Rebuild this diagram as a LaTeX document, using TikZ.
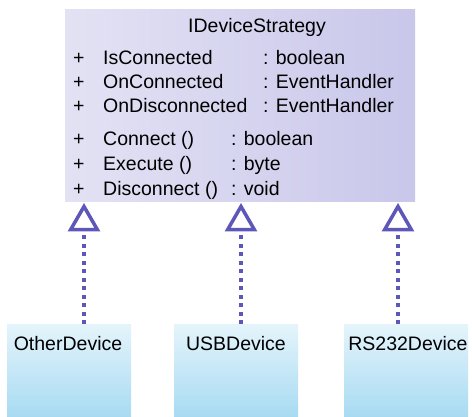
\documentclass[tikz,border=0pt]{standalone}
\usepackage{fontspec}
\setmainfont{Liberation Sans}
\usetikzlibrary{shapes.geometric}
\definecolor{lavtop}{HTML}{E3E2F4}
\definecolor{lavbot}{HTML}{C9C7EA}
\definecolor{skytop}{HTML}{E4F4FB}
\definecolor{skybot}{HTML}{A6DAF2}
\definecolor{realcol}{HTML}{5E57BA}

\begin{document}
\begin{tikzpicture}[x=1pt,y=-1pt,font=\fontsize{19.5}{23}\selectfont,
						iface/.style={rectangle,left color=lavtop,right color=lavbot,inner sep=0pt,minimum width=350pt,minimum height=192pt},
						device/.style={rectangle,top color=skytop,bottom color=skybot,inner sep=0pt,minimum width=124pt,minimum height=95pt},
						member/.style={anchor=base west,inner sep=0pt},
						tri/.style={regular polygon,regular polygon sides=3,draw=realcol,line width=3.5pt,inner sep=0pt,minimum size=31pt},
						realize/.style={draw=realcol,line width=4pt,dash pattern=on 4pt off 4.5pt}]
		\useasboundingbox (0,0) rectangle (472,417);
		\fill[white] (0,0) rectangle (472,417);

		\node[iface]							(strategy)	at (240,106)	{};
		\node[anchor=base,inner sep=0pt]	(title)	at (257,33)	{IDeviceStrategy};

		% attributes
		\node[member]	(p1)	at (73,65)	{+};
		\node[member]	(a1)	at (103,65)	{IsConnected};
		\node[member]	(t1)	at (263,65)	{: boolean};
		\node[member]	(p2)	at (73,89)	{+};
		\node[member]	(a2)	at (103,89)	{OnConnected};
		\node[member]	(t2)	at (263,89)	{: EventHandler};
		\node[member]	(p3)	at (73,113)	{+};
		\node[member]	(a3)	at (103,113)	{OnDisconnected};
		\node[member]	(t3)	at (263,113)	{: EventHandler};

		% operations
		\node[member]	(p4)	at (73,146)	{+};
		\node[member]	(m1)	at (103,146)	{Connect ()};
		\node[member]	(r1)	at (231,146)	{: boolean};
		\node[member]	(p5)	at (73,171)	{+};
		\node[member]	(m2)	at (103,171)	{Execute ()};
		\node[member]	(r2)	at (231,171)	{: byte};
		\node[member]	(p6)	at (73,196)	{+};
		\node[member]	(m3)	at (103,196)	{Disconnect ()};
		\node[member]	(r3)	at (231,196)	{: void};

		\node[tri]	(tri1)	at (84,222)	{};
		\node[tri]	(tri2)	at (241,222)	{};
		\node[tri]	(tri3)	at (398,222)	{};

		\node[device]	(other)	at (69,372)	{};
		\node[device]	(usb)	at (236,372)	{};
		\node[device]	(rs232)	at (406,372)	{};
		\node[anchor=base,inner sep=0pt]	(otherlbl)	at (68,351)	{OtherDevice};
		\node[anchor=base,inner sep=0pt]	(usblbl)	at (236,351)	{USBDevice};
		\node[anchor=base,inner sep=0pt]	(rs232lbl)	at (408,351)	{RS232Device};

		\draw[realize] (other.north -| tri1) -- (tri1.south);
		\draw[realize] (usb.north -| tri2) -- (tri2.south);
		\draw[realize] (rs232.north -| tri3) -- (tri3.south);
	\end{tikzpicture}
\end{document}
